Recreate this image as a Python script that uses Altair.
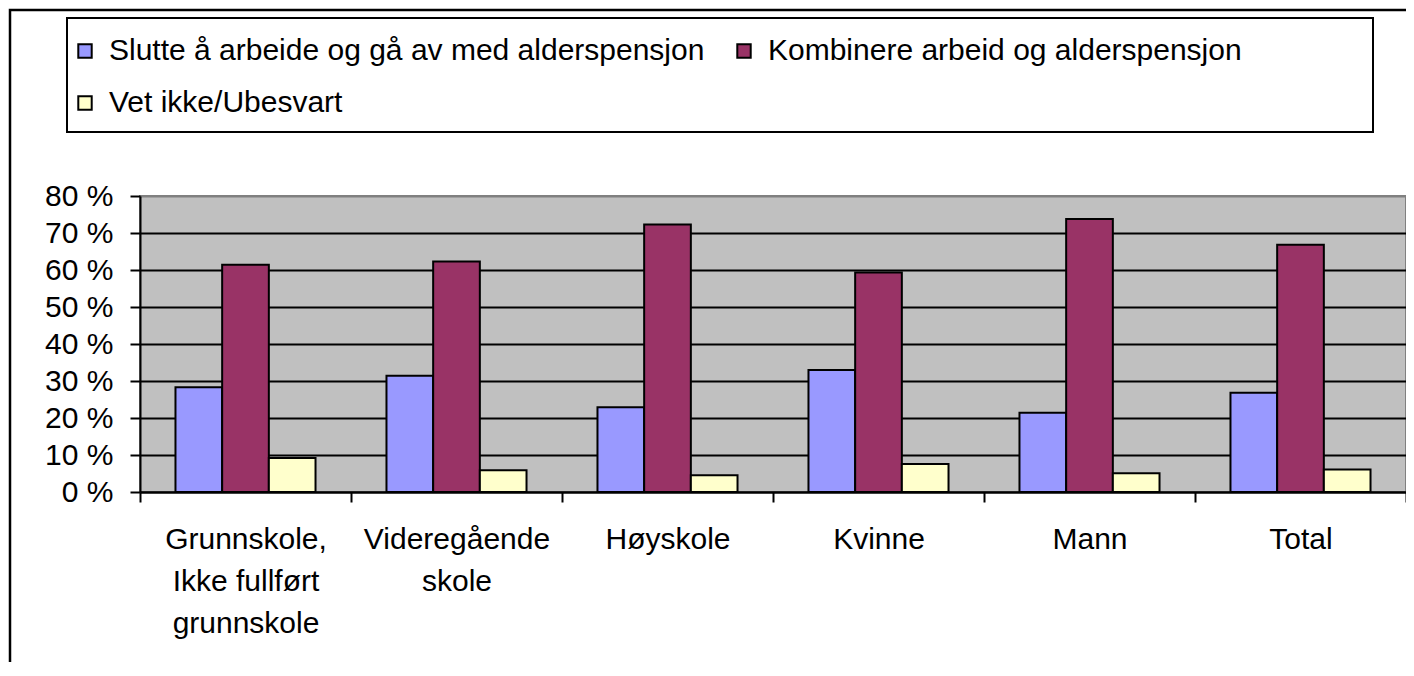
import altair as alt
import pandas as pd

categories = ["Grunnskole,\nIkke fullført\ngrunnskole", "Videregående\nskole", "Høyskole", "Kvinne", "Mann", "Total"]
series_names = ["Slutte å arbeide og gå av med alderspensjon", "Kombinere arbeid og alderspensjon", "Vet ikke/Ubesvart"]
slutte = [28.3, 31.4, 22.9, 33.0, 21.4, 26.8]
kombinere = [61.4, 62.3, 72.3, 59.3, 73.8, 66.8]
vet_ikke = [9.2, 5.9, 4.5, 7.6, 5.1, 6.1]
y_ticks = [0, 10, 20, 30, 40, 50, 60, 70, 80]
colors = ["#9999FF", "#993366", "#FFFFCC"]

rows = []
for s, vals in zip(series_names, [slutte, kombinere, vet_ikke]):
    for c, v in zip(categories, vals):
        rows.append({"cat": c, "series": s, "value": v})
df = pd.DataFrame(rows)

FONT = "Liberation Sans"
FS = 30

one = alt.Data(values=[{"a": 1}])

outer = alt.Chart(one).mark_rect(fill="white", fillOpacity=0, stroke="black", strokeWidth=2.5).encode(
    x=alt.value(-130), x2=alt.value(1300), y=alt.value(-186), y2=alt.value(520)
)
legend_box = alt.Chart(one).mark_rect(fill="white", fillOpacity=0, stroke="black", strokeWidth=2).encode(
    x=alt.value(-73), x2=alt.value(1233), y=alt.value(-178), y2=alt.value(-64)
)

bars = alt.Chart(df).mark_bar(stroke="black", strokeWidth=2).encode(
    x=alt.X("cat:N", sort=categories, title=None,
            scale=alt.Scale(paddingInner=0, paddingOuter=0),
            axis=alt.Axis(labelAngle=0, labelFont=FONT, labelFontSize=FS, labelColor="black",
                          labelExpr="split(datum.label, '\\n')", labelLineHeight=42,
                          labelBaseline="top", labelPadding=22, labelLimit=400, tickBand="extent",
                          tickSize=10, tickColor="black", tickWidth=2,
                          domainColor="black", domainWidth=2, grid=False)),
    xOffset=alt.XOffset("series:N", sort=series_names,
                        scale=alt.Scale(paddingInner=0, paddingOuter=0.76)),
    y=alt.Y("value:Q", title=None, scale=alt.Scale(domain=[0, 80], nice=False),
            axis=alt.Axis(values=y_ticks, labelExpr="datum.value + ' %'", labelFont=FONT,
                          labelFontSize=FS, labelColor="black", labelPadding=17,
                          tickSize=10, tickColor="black", tickWidth=2,
                          domainColor="black", domainWidth=2,
                          grid=True, gridWidth=2,
                          gridColor={"condition": {"test": "datum.value === 80", "value": "#808080"}, "value": "black"})),
    color=alt.Color("series:N", sort=series_names,
                    scale=alt.Scale(domain=series_names, range=colors),
                    legend=alt.Legend(title=None, orient="none", legendX=-70, legendY=-160,
                                      direction="horizontal", columns=2, columnPadding=24,
                                      rowPadding=22, padding=0, labelFont=FONT, labelFontSize=FS,
                                      labelColor="black", labelOffset=9, symbolType="square",
                                      symbolSize=180, symbolStrokeColor="black",
                                      symbolStrokeWidth=2, symbolOpacity=1, labelLimit=1000)),
)

chart = alt.layer(outer, legend_box, bars).properties(
    width=1266, height=296,
    autosize=alt.AutoSizeParams(type="none"),
    padding={"left": 132, "top": 188, "right": 0, "bottom": 170},
).configure(background="white").configure_view(
    fill="#C0C0C0", stroke="#808080", strokeWidth=2
)

chart.save("out.html", embed_options={"renderer": "svg", "actions": False})
